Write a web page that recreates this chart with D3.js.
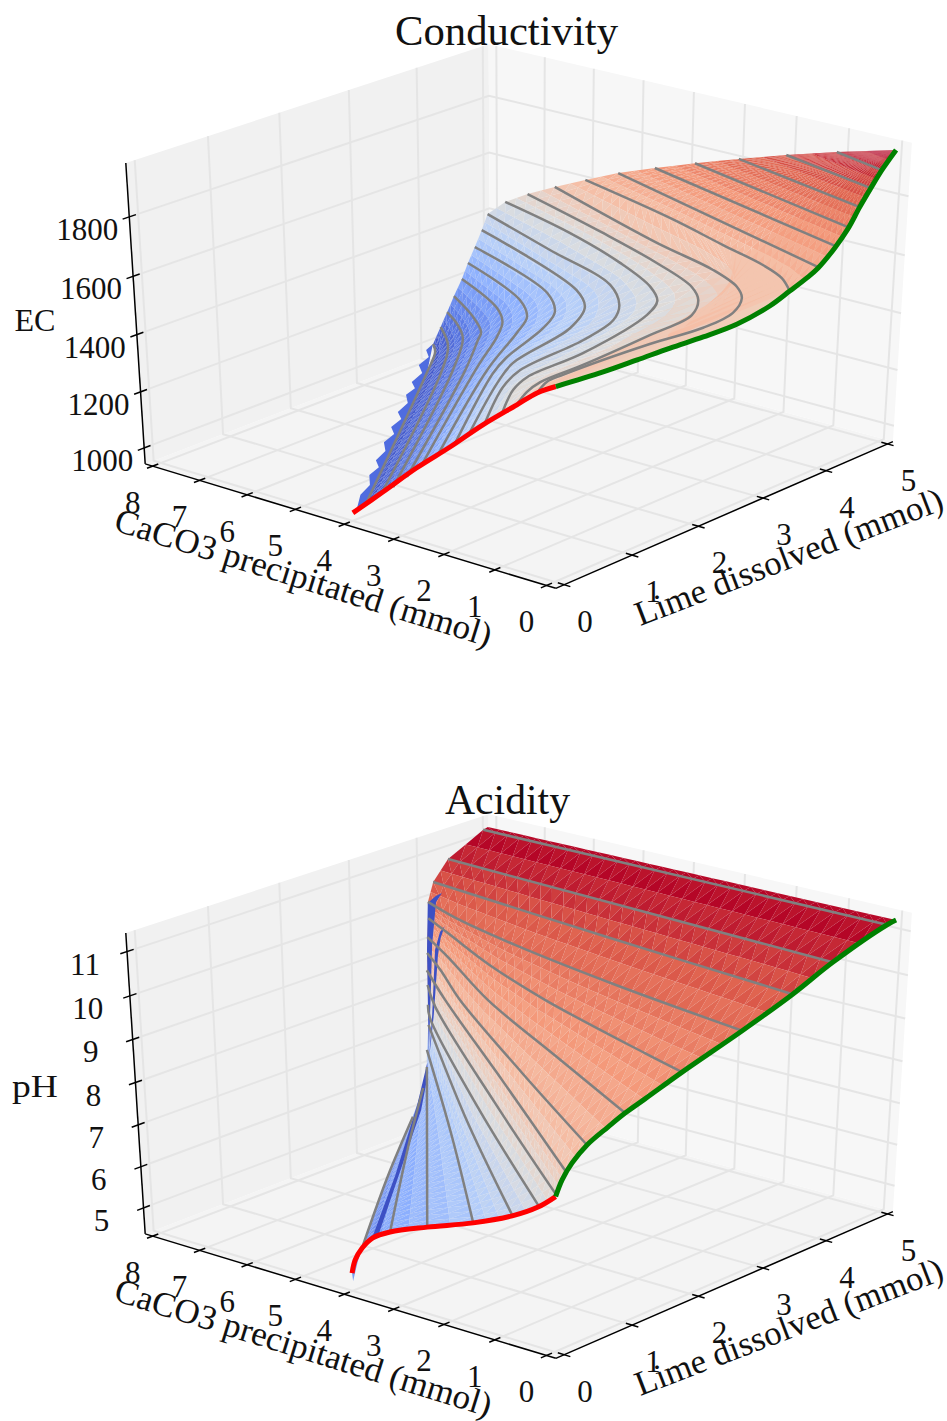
<!DOCTYPE html>
<html><head><meta charset="utf-8">
<script src="https://cdnjs.cloudflare.com/ajax/libs/d3/7.8.5/d3.min.js"></script>
<style>body{margin:0;background:#fff}text{font-family:"Liberation Serif",serif;fill:#111}</style>
</head><body><svg id="chart" width="947" height="1421"></svg>
<script>
let limeTicks = [0,1,2,3,4,5]
let caco3Ticks = [0,1,2,3,4,5,6,7,8]
let ecTicks = [1000,1200,1400,1600,1800]
let phTicks = [5,6,7,8,9,10,11]

// EC contours, one level each, lime and CaCO3 along the line
let ecLevels = [1025,1073,1105,1155,1212,1263,1320,1372,1417,1467,1515,1566,1613,1657,1707,1754,1807,1857,1904]
let ecLime = [
    [0,3.17,3.72,3.89],
    [0,3.04,3.66,4.04],
    [0,2.90,3.71,3.99,4.23],
    [0,2.67,3.44,3.65,3.96,4.34],
    [0,2.45,3.26,3.65,3.95,4.43],
    [0,2.12,3.15,3.59,3.95,4.52],
    [0,1.72,2.16,3.05,3.50,3.91,4.57],
    [0,1.20,1.73,2.88,3.46,3.81,4.68],
    [0,0.86,1.33,2.38,3.03,3.42,3.84,4.31,4.81],
    [0,0.55,0.91,1.77,3.02,3.41,3.70,4.09,4.51,4.88],
    [0,0.28,0.57,1.19,2.25,2.96,3.35,3.62,3.98,4.38,4.88],
    [0,0.29,0.53,1.71,2.39,2.91,3.31,3.54,3.80,4.11,4.87],
    [3.43,3.69,3.89,4.13,4.47,4.90],
    [3.86,4.96],
    [4.11,4.95],
    [4.30,4.97],
    [4.47,4.95],
    [4.63,4.96],
    [4.79,4.98]
]
let ecCaco3 = [
    [3.70,6.89,7.47,7.75],
    [3.39,6.38,7.11,7.79],
    [3.16,5.96,6.86,7.35,7.91],
    [2.88,5.38,6.17,6.39,6.98,7.91],
    [2.58,4.83,5.53,5.94,6.46,7.86],
    [2.26,4.18,4.97,5.35,5.98,7.85],
    [1.92,3.52,3.84,4.30,4.66,5.36,7.77],
    [1.63,2.73,3.14,3.53,4.00,4.63,7.77],
    [1.34,2.16,2.46,2.62,2.87,3.26,3.99,5.84,7.82],
    [1.01,1.54,1.75,1.81,2.20,2.50,3.01,4.12,5.70,7.54],
    [0.71,0.92,1.05,1.06,1.16,1.26,1.63,2.10,3.25,4.85,7.07],
    [0.35,0.55,0.57,0.47,0.33,0.42,0.75,1.13,1.92,3.42,6.49],
    [0,0.47,1.08,2.15,3.63,5.90],
    [0,5.31],
    [0,4.56],
    [0,3.79],
    [0,2.91],
    [0,2.01],
    [0,1.08]
]

// pH contours; the last row is the upper edge of the surface and is not drawn as a contour
let phLevels = [5.55,6.05,6.45,6.83,7.27,7.67,8.03,8.48,8.85,9.23,9.65,10.06,10.45,10.83,11.22,11.25]
let phLime = [
    [0,1.59,3.11],
    [0,1.93,3.38],
    [0,3.52],
    [0,1.71,3.56],
    [0,1.82,3.74],
    [0,1.74,3.52,3.83],
    [0,1.59,3.46,3.95],
    [0.13,1.71,3.23,3.85],
    [0.44,1.63,2.95,3.56,3.90],
    [0.98,1.85,2.73,3.53,3.90],
    [1.80,2.01,2.65,3.15,3.65,3.94],
    [2.68,3.01,3.37,3.68,3.91],
    [3.43,3.70,4.03],
    [4.03,4.30],
    [4.86,4.86],
    [5.00,4.93]
]
let phCaco3 = [
    [3.76,5.50,7.09],
    [3.21,5.54,7.24],
    [2.47,7.35],
    [1.57,4.33,7.40],
    [0.82,4.21,7.61],
    [0.33,3.85,7.27,7.74],
    [0,3.30,7.07,7.91],
    [0,3.32,6.54,7.78],
    [0,2.82,5.85,7.09,7.84],
    [0,2.48,4.98,6.89,7.83],
    [0,0.97,3.73,5.51,7.00,7.86],
    [0,2.84,5.30,6.94,7.82],
    [0,3.78,7.87],
    [0,7.93],
    [0,7.96],
    [0,7.96]
]

// green line: no CaCO3 precipitated, red line: no lime dissolved
let ecGreenLime = [0,0.67,1.16,1.64,2.13,2.64,3.13,3.43,3.69,3.86,4.11,4.30,4.47,4.63,4.79,5.00]
let ecGreenVal = [1604,1590,1585,1581,1574,1572,1589,1613,1635,1654,1701,1748,1807,1857,1904,1954]
let ecRedCaco3 = [0,0.35,0.73,1.38,2.02,2.68,3.37,3.99]
let ecRedVal = [1604,1566,1508,1409,1302,1197,1077,971]
let phGreenLime = [0,0.09,0.23,0.44,0.74,0.98,1.26,1.80,2.68,3.43,4.03,4.86,5.00]
let phGreenVal = [7.97,8.29,8.58,8.85,9.07,9.23,9.37,9.65,10.06,10.45,10.83,11.22,11.25]
let phRedCaco3 = [0,0.33,0.82,1.57,2.47,3.21,3.56,3.78,3.93,4.00]
let phRedVal = [7.97,7.62,7.25,6.83,6.42,6.05,5.79,5.47,5.13,4.79]

// ragged low edge of the EC surface
let fringeLime = [-0.14,0.17,0.42,0.61,0.82,0.94,1.18,1.35,1.58,1.70,1.93,2.05,2.30,2.46,2.66,2.77,3.03,3.18,3.42,3.56,3.73,3.06,0.08]
let fringeCaco3 = [3.71,4.07,4.23,4.51,4.61,4.84,4.98,5.25,5.36,5.59,5.70,5.94,6.08,6.34,6.43,6.65,6.79,7.07,7.19,7.44,7.53,6.73,3.80]
let fringeVal = [1010,1014,1016,1018,1020,1022,1024,1026,1028,1030,1032,1034,1036,1038,1039,1041,1043,1045,1047,1048,1050,1043,1012]

// dark folds of the pH surface
let foldA = {lime:[4.13,4.21,4.26,4.19,4.00,3.77,3.53,3.95], caco3:[8.13,8.07,8.01,8.04,7.87,7.60,7.32,7.91], ph:[9.83,9.97,10.03,9.85,8.98,7.86,6.74,8.88]}
let foldB = {lime:[4.15,4.10,4.00,3.72,3.51,3.73,4.00,4.08], caco3:[7.81,7.84,7.81,7.50,7.29,7.48,7.75,7.80], ph:[9.36,9.24,8.88,7.56,6.64,7.56,8.77,9.12]}
let foldC = {lime:[3.49,3.25,2.80,2.36,2.41,2.80,3.25,3.44], caco3:[7.30,7.19,7.05,6.96,6.90,7.00,7.11,7.22], ph:[6.58,5.73,4.31,3.03,3.07,4.25,5.63,6.34]}
let foldTip = {lime:[0.38,0,-0.41,-0.16], caco3:[4.31,3.88,3.39,3.78], ph:[5.1,5.1,5.1,5.1]}

const coolStops = [0,.125,.25,.375,.5,.625,.75,.875,1]
const coolColors = ["#3b4cc0","#6282ea","#8db0fe","#b8d0f9","#dddddd","#f5c4ad","#f49a7b","#de604d","#b40426"]

// camera of the 3d axes
const elev = 30*Math.PI/180, azim = 220*Math.PI/180, dist = 10
const n = [Math.cos(elev)*Math.cos(azim), Math.cos(elev)*Math.sin(azim), Math.sin(elev)]
const u = [-Math.sin(azim), Math.cos(azim), 0]
const v = [n[1]*u[2]-n[2]*u[1], n[2]*u[0]-n[0]*u[2], n[0]*u[1]-n[1]*u[0]]
const dot = (a,p) => a[0]*p[0]+a[1]*p[1]+a[2]*p[2]

const lime0 = -.12, lime1 = 5.09, caco30 = -.18, caco31 = 8.16
const xS = d3.scaleLinear().domain([lime0,lime1]).range([-.5,.5])
const yS = d3.scaleLinear().domain([caco30,caco31]).range([-.5,.5])
const screenX = d3.scaleLinear().domain([0,1]).range([521,521+5440])
const cool = d3.scaleLinear().domain(coolStops).range(coolColors).clamp(true)
const svg = d3.select("#chart")

const zip = (lime,caco3,z) => lime.map((l,i) => ({lime:l, caco3:caco3[i], z:Array.isArray(z) ? z[i] : z}))

function makeChart(cfg){
    const g = svg.append("g")
    const zS = d3.scaleLinear().domain(cfg.zLim).range([-.5,.5])
    const screenY = d3.scaleLinear().domain([0,1]).range([cfg.oy,cfg.oy-3460])
    const toCube = (l,c,z) => [xS(l),yS(c),zS(z)]
    const project = (l,c,z) => {
        const p = toCube(l,c,z), w = dist-dot(n,p)
        return [screenX(dot(u,p)/w),screenY(dot(v,p)/w)]
    }
    const nodeXY = d => project(d.lime,d.caco3,d.z)
    const [z0,z1] = cfg.zLim

    // panes
    const pane = (pts,fill) => g.append("polygon")
        .attr("points",pts.map(d => project(...d).join(",")).join(" ")).attr("fill",fill)
    pane([[lime0,caco30,z0],[lime1,caco30,z0],[lime1,caco31,z0],[lime0,caco31,z0]],"#f4f4f4")
    pane([[lime0,caco31,z0],[lime1,caco31,z0],[lime1,caco31,z1],[lime0,caco31,z1]],"#f1f1f1")
    pane([[lime1,caco30,z0],[lime1,caco31,z0],[lime1,caco31,z1],[lime1,caco30,z1]],"#f7f7f7")

    const line = d3.line()
    const seg = (pts,stroke,w) => g.append("path").attr("d",line(pts.map(d => project(...d))))
        .attr("fill","none").attr("stroke",stroke).attr("stroke-width",w)

    // grid
    limeTicks.forEach(l => seg([[l,caco30,z0],[l,caco31,z0],[l,caco31,z1]],"#e5e5e5",2))
    caco3Ticks.forEach(c => seg([[lime0,c,z0],[lime1,c,z0],[lime1,c,z1]],"#e5e5e5",2))
    cfg.zTicks.forEach(z => seg([[lime0,caco31,z],[lime1,caco31,z],[lime1,caco30,z]],"#e5e5e5",2))

    // axes
    seg([[lime0,caco30,z0],[lime1,caco30,z0]],"#000",1.5)
    seg([[lime0,caco30,z0],[lime0,caco31,z0]],"#000",1.5)
    seg([[lime0,caco31,z0],[lime0,caco31,z1]],"#000",1.5)
    const label = (x,y,t) => g.append("text").attr("x",x).attr("y",y)
        .attr("text-anchor","middle").attr("font-size",31).text(t)
    limeTicks.forEach(l => {
        seg([[l,caco30+.12,z0],[l,caco30-.12,z0]],"#000",1.5)
        const p = project(l,caco30,z0)
        label(p[0]+21,p[1]+47,l)
    })
    caco3Ticks.forEach(c => {
        seg([[lime0+.08,c,z0],[lime0-.08,c,z0]],"#000",1.5)
        const p = project(lime0,c,z0)
        label(p[0]-20,p[1]+47,c)
    })
    cfg.zTicks.forEach(z => {
        seg([[lime0+.09,caco31,z],[lime0-.09,caco31,z]],"#000",1.5)
        const p = project(lime0,caco31,z)
        label(p[0]-42,p[1]+23,z)
    })

    const fitted = (size,len,t) => g.append("text").attr("text-anchor","middle").attr("font-size",size)
        .attr("textLength",len).attr("lengthAdjust","spacingAndGlyphs").text(t)
    fitted(42,cfg.titleLen,cfg.title).attr("x",cfg.titleX).attr("y",cfg.titleY)
    fitted(32,cfg.zLabelLen,cfg.zLabel).attr("x",35).attr("y",cfg.zLabelY)
    fitted(34.5,393,"CaCO3 precipitated (mmol)").attr("transform",`translate(300,${cfg.oy+282}) rotate(17.3)`)
    fitted(34.5,327,"Lime dissolved (mmol)").attr("transform",`translate(793,${cfg.oy+261}) rotate(-21)`)

    // surface: facets between neighbouring contours, far ones first
    const zN = d3.scaleLinear().domain(cfg.colorDomain).range([0,1])
    if (cfg.underFill) g.append("polygon")
        .attr("points",cfg.green.map(d => nodeXY(d).join(",")).join(" ")).attr("fill",cfg.underFill)
    const M = 32
    const along = nodes => {
        if (nodes.length == 1) return d3.range(M+1).map(() => nodes[0])
        const cum = [0]
        for (let i=1; i<nodes.length; i++)
            cum.push(cum[i-1]+Math.hypot(nodes[i].lime-nodes[i-1].lime,nodes[i].caco3-nodes[i-1].caco3)+1e-6)
        const sl = d3.scaleLinear().domain(cum).range(nodes.map(d => d.lime))
        const sc = d3.scaleLinear().domain(cum).range(nodes.map(d => d.caco3))
        const sz = d3.scaleLinear().domain(cum).range(nodes.map(d => d.z))
        return d3.range(M+1).map(i => {
            const s = cum[cum.length-1]*i/M
            return {lime:sl(s), caco3:sc(s), z:sz(s)}
        })
    }
    const mix = (p,q,t) => ({lime:p.lime+(q.lime-p.lime)*t, caco3:p.caco3+(q.caco3-p.caco3)*t, z:p.z+(q.z-p.z)*t})
    const rows = cfg.rows.map(along)
    const tris = []
    for (let r=0; r<rows.length-1; r++){
        const a = rows[r], b = rows[r+1]
        const K = Math.max(1,Math.ceil(Math.abs(zN(a[0].z)-zN(b[0].z))/.03))
        for (let k=0; k<K; k++) for (let i=0; i<M; i++){
            const p00 = mix(a[i],b[i],k/K), p01 = mix(a[i+1],b[i+1],k/K)
            const p10 = mix(a[i],b[i],(k+1)/K), p11 = mix(a[i+1],b[i+1],(k+1)/K)
            tris.push({pts:[p00,p01,p11],off:.014},{pts:[p00,p11,p10],off:-.014})
        }
    }
    tris.forEach(t => {
        t.val = d3.mean(t.pts,d => zN(d.z))+t.off
        t.depth = d3.mean(t.pts,d => dist-dot(n,toCube(d.lime,d.caco3,d.z)))
        t.xy = t.pts.map(nodeXY)
    })
    tris.sort((a,b) => b.depth-a.depth)
    g.append("g").selectAll("path").data(tris).join("path")
        .attr("d",d => "M"+d.xy.join("L")+"Z").attr("fill",d => cool(d.val))

    cfg.extras.forEach(e => g.append("polygon")
        .attr("points",e.nodes.map(d => nodeXY(d).join(",")).join(" ")).attr("fill",e.fill))

    const smooth = d3.line().curve(d3.curveCatmullRom.alpha(.5))
    cfg.contours.forEach(c => g.append("path").attr("d",smooth(c.map(nodeXY)))
        .attr("fill","none").attr("stroke","#808080").attr("stroke-width",2.5))
    g.append("path").attr("d",smooth(cfg.red.map(nodeXY))).attr("fill","none").attr("stroke","#f00").attr("stroke-width",5)
    g.append("path").attr("d",smooth(cfg.green.map(nodeXY))).attr("fill","none").attr("stroke","#008000").attr("stroke-width",5)
}

const ecRows = ecLevels.map((lev,i) => zip(ecLime[i],ecCaco3[i],lev))
const ecGreen = zip(ecGreenLime,ecGreenLime.map(() => 0),ecGreenVal)
const ecRed = zip(ecRedCaco3.map(() => 0),ecRedCaco3,ecRedVal)
makeChart({
    oy:306.5, zLim:[942.4,1978], zTicks:ecTicks, colorDomain:[1000,1954],
    title:"Conductivity", titleX:506.5, titleY:45, titleLen:223,
    zLabel:"EC", zLabelY:331, zLabelLen:41,
    green:ecGreen, red:ecRed, underFill:"#f0cdb8",
    rows:ecRows.concat([[ecGreen[ecGreen.length-1]]]),
    contours:ecRows,
    extras:[{nodes:zip(fringeLime,fringeCaco3,fringeVal),fill:"#4f6ce0"}]
})

const phRows = phLevels.map((lev,i) => zip(phLime[i],phCaco3[i],lev))
const foldNodes = f => zip(f.lime,f.caco3,f.ph)
makeChart({
    oy:1076.5, zLim:[4.363,11.416], zTicks:phTicks, colorDomain:[4.4,11.2],
    title:"Acidity", titleX:507.5, titleY:814, titleLen:125,
    zLabel:"pH", zLabelY:1097, zLabelLen:46,
    green:zip(phGreenLime,phGreenLime.map(() => 0),phGreenVal),
    red:zip(phRedCaco3.map(() => 0),phRedCaco3,phRedVal),
    rows:phRows,
    contours:phRows.slice(0,-1),
    extras:[
        {nodes:foldNodes(foldTip),fill:"#7a9cf0"},
        {nodes:foldNodes(foldA),fill:"#3d50c4"},
        {nodes:foldNodes(foldB),fill:"#3d50c4"},
        {nodes:foldNodes(foldC),fill:"#3d50c4"}
    ]
})
</script></body></html>
